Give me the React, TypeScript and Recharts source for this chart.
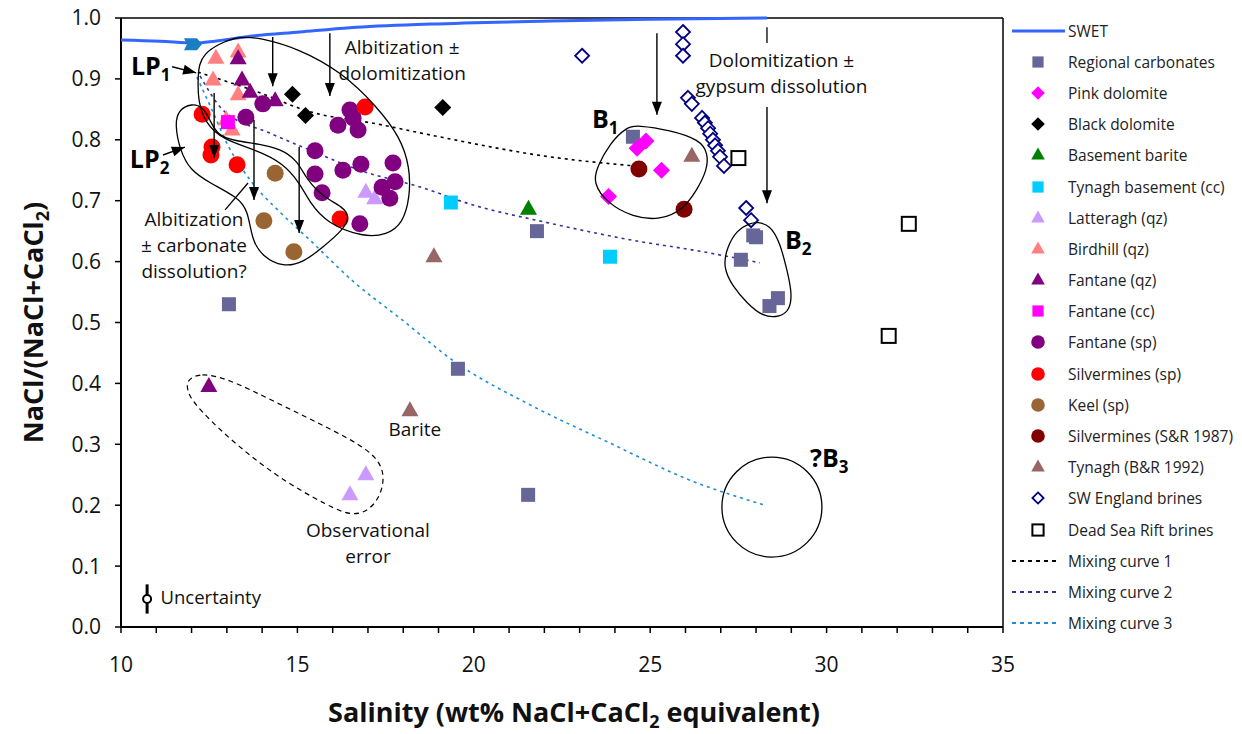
import React from "react";
import {
  ScatterChart,
  Scatter,
  XAxis,
  YAxis,
  ReferenceLine,
  ReferenceDot,
  ErrorBar,
} from "recharts";

const FONT = "'Open Sans', 'Noto Sans', sans-serif";

// salinity (wt%) vs NaCl/(NaCl+CaCl2)
const regionalCarbonates = [
  { x: 24.51, y: 0.805 }, { x: 21.79, y: 0.65 }, { x: 13.06, y: 0.53 },
  { x: 19.55, y: 0.424 }, { x: 21.54, y: 0.217 }, { x: 27.57, y: 0.603 },
  { x: 27.92, y: 0.643 }, { x: 28.0, y: 0.64 }, { x: 28.62, y: 0.54 },
  { x: 28.38, y: 0.527 },
];
const pinkDolomite = [
  { x: 23.82, y: 0.707 }, { x: 25.32, y: 0.75 }, { x: 24.63, y: 0.786 },
  { x: 24.88, y: 0.798 },
];
const blackDolomite = [
  { x: 14.86, y: 0.875 }, { x: 15.23, y: 0.84 }, { x: 19.12, y: 0.853 },
];
const basementBarite = [{ x: 21.55, y: 0.686 }];
const tynaghBasement = [{ x: 19.35, y: 0.697 }, { x: 23.86, y: 0.608 }];
const latteragh = [
  { x: 16.49, y: 0.217 }, { x: 16.94, y: 0.25 }, { x: 16.94, y: 0.714 },
  { x: 17.19, y: 0.703 },
];
const birdhill = [
  { x: 12.69, y: 0.934 }, { x: 13.32, y: 0.944 }, { x: 12.61, y: 0.898 },
  { x: 13.32, y: 0.874 }, { x: 13.15, y: 0.816 }, { x: 12.98, y: 0.833 },
];
const fantaneQz = [
  { x: 13.32, y: 0.933 }, { x: 13.43, y: 0.898 }, { x: 13.66, y: 0.878 },
  { x: 14.37, y: 0.864 }, { x: 12.49, y: 0.395 },
];
const fantaneCc = [{ x: 13.03, y: 0.829 }];
const fantaneSp = [
  { x: 14.02, y: 0.859 }, { x: 13.54, y: 0.837 }, { x: 16.49, y: 0.849 },
  { x: 16.15, y: 0.824 }, { x: 16.72, y: 0.816 }, { x: 16.58, y: 0.836 },
  { x: 15.5, y: 0.782 }, { x: 16.29, y: 0.75 }, { x: 16.8, y: 0.76 },
  { x: 17.71, y: 0.762 }, { x: 15.5, y: 0.744 }, { x: 17.77, y: 0.731 },
  { x: 17.4, y: 0.722 }, { x: 15.7, y: 0.713 }, { x: 17.62, y: 0.704 },
  { x: 16.77, y: 0.662 },
];
const silverminesSp = [
  { x: 12.3, y: 0.842 }, { x: 12.58, y: 0.788 }, { x: 12.55, y: 0.775 },
  { x: 13.29, y: 0.759 }, { x: 16.92, y: 0.854 }, { x: 16.21, y: 0.67 },
];
const keelSp = [{ x: 14.37, y: 0.745 }, { x: 14.05, y: 0.667 }, { x: 14.9, y: 0.616 }];
const silverminesSR = [{ x: 24.68, y: 0.752 }, { x: 25.96, y: 0.686 }];
const tynaghBR = [{ x: 26.18, y: 0.773 }, { x: 18.87, y: 0.608 }, { x: 18.19, y: 0.355 }];
const swEnglandBrines = [
  { x: 23.07, y: 0.938 }, { x: 25.93, y: 0.977 }, { x: 25.93, y: 0.957 },
  { x: 25.93, y: 0.938 }, { x: 26.07, y: 0.869 }, { x: 26.18, y: 0.859 },
  { x: 26.47, y: 0.836 }, { x: 26.55, y: 0.828 }, { x: 26.64, y: 0.819 },
  { x: 26.7, y: 0.81 }, { x: 26.78, y: 0.8 }, { x: 26.84, y: 0.791 },
  { x: 26.92, y: 0.782 }, { x: 26.98, y: 0.772 }, { x: 27.09, y: 0.757 },
  { x: 27.72, y: 0.688 }, { x: 27.86, y: 0.668 },
];
const deadSeaBrines = [{ x: 27.5, y: 0.77 }, { x: 32.33, y: 0.662 }, { x: 31.76, y: 0.478 }];

const swet = [
  { x: 10, y: 0.964 }, { x: 11.11, y: 0.962 }, { x: 12.1, y: 0.959 },
  { x: 12.66, y: 0.962 }, { x: 13.66, y: 0.97 }, { x: 15.07, y: 0.977 },
  { x: 16.49, y: 0.984 }, { x: 18.76, y: 0.99 }, { x: 22.16, y: 0.995 },
  { x: 24.99, y: 0.998 }, { x: 28.31, y: 1.0 },
];
const swetStart = [{ x: 12.04, y: 0.957 }];

const mixing1 = [
  { x: 12.18, y: 0.911 }, { x: 13.85, y: 0.879 }, { x: 15.36, y: 0.846 },
  { x: 17.26, y: 0.826 }, { x: 18.76, y: 0.808 }, { x: 22.16, y: 0.772 },
  { x: 24.57, y: 0.757 },
];
const mixing2 = [
  { x: 12.24, y: 0.905 }, { x: 12.89, y: 0.849 }, { x: 14.22, y: 0.811 },
  { x: 15.36, y: 0.783 }, { x: 16.77, y: 0.75 }, { x: 18.56, y: 0.721 },
  { x: 19.81, y: 0.696 }, { x: 22.16, y: 0.663 }, { x: 24.51, y: 0.635 },
  { x: 26.41, y: 0.617 }, { x: 28.11, y: 0.598 },
];
const mixing3 = [
  { x: 12.15, y: 0.903 }, { x: 12.58, y: 0.849 }, { x: 13.03, y: 0.791 },
  { x: 13.66, y: 0.734 }, { x: 14.51, y: 0.681 }, { x: 15.36, y: 0.635 },
  { x: 16.63, y: 0.565 }, { x: 17.91, y: 0.507 }, { x: 19.52, y: 0.433 },
  { x: 21.59, y: 0.365 }, { x: 23.86, y: 0.302 }, { x: 26.13, y: 0.241 },
  { x: 28.25, y: 0.2 },
];

// hand-drawn outlines, in data units
const envelopeLP1 = [
  { x: 12.24, y: 0.943 }, { x: 13.29, y: 0.972 }, { x: 13.94, y: 0.967 },
  { x: 14.99, y: 0.951 }, { x: 16.29, y: 0.91 }, { x: 17.26, y: 0.854 },
  { x: 17.91, y: 0.805 }, { x: 18.19, y: 0.755 }, { x: 18.19, y: 0.706 },
  { x: 17.99, y: 0.663 }, { x: 17.54, y: 0.644 }, { x: 16.86, y: 0.64 },
  { x: 15.84, y: 0.663 }, { x: 15.36, y: 0.696 }, { x: 15.07, y: 0.729 },
  { x: 14.59, y: 0.762 }, { x: 13.85, y: 0.783 }, { x: 12.89, y: 0.8 },
  { x: 12.38, y: 0.828 }, { x: 12.18, y: 0.865 }, { x: 12.18, y: 0.903 },
];
const envelopeLP2 = [
  { x: 11.62, y: 0.849 }, { x: 12.01, y: 0.86 }, { x: 12.32, y: 0.854 },
  { x: 12.52, y: 0.833 }, { x: 12.72, y: 0.808 }, { x: 13.23, y: 0.798 },
  { x: 13.94, y: 0.793 }, { x: 14.51, y: 0.785 }, { x: 14.99, y: 0.767 },
  { x: 15.27, y: 0.734 }, { x: 15.73, y: 0.706 }, { x: 16.29, y: 0.69 },
  { x: 16.49, y: 0.673 }, { x: 16.29, y: 0.652 }, { x: 15.73, y: 0.624 },
  { x: 15.16, y: 0.598 }, { x: 14.59, y: 0.591 }, { x: 14.02, y: 0.608 },
  { x: 13.71, y: 0.635 }, { x: 13.6, y: 0.685 }, { x: 13.29, y: 0.706 },
  { x: 12.52, y: 0.729 }, { x: 11.96, y: 0.75 }, { x: 11.67, y: 0.783 },
  { x: 11.53, y: 0.824 },
];
const envelopeB1 = [
  { x: 24.34, y: 0.821 }, { x: 24.63, y: 0.824 }, { x: 25.56, y: 0.816 },
  { x: 26.41, y: 0.8 }, { x: 26.64, y: 0.778 }, { x: 26.61, y: 0.75 },
  { x: 26.33, y: 0.718 }, { x: 25.93, y: 0.685 }, { x: 25.28, y: 0.668 },
  { x: 24.51, y: 0.673 }, { x: 23.78, y: 0.696 }, { x: 23.38, y: 0.729 },
  { x: 23.49, y: 0.755 }, { x: 23.86, y: 0.795 },
];
const envelopeB2 = [
  { x: 28.03, y: 0.665 }, { x: 28.4, y: 0.66 }, { x: 28.68, y: 0.631 },
  { x: 28.88, y: 0.586 }, { x: 29.02, y: 0.548 }, { x: 28.96, y: 0.521 },
  { x: 28.68, y: 0.509 }, { x: 28.2, y: 0.509 }, { x: 27.74, y: 0.532 },
  { x: 27.35, y: 0.558 }, { x: 27.06, y: 0.591 }, { x: 27.18, y: 0.624 },
  { x: 27.46, y: 0.652 }, { x: 27.83, y: 0.663 },
];
const envelopeObsError = [
  { x: 11.87, y: 0.406 }, { x: 12.24, y: 0.417 }, { x: 13.0, y: 0.409 },
  { x: 14.42, y: 0.368 }, { x: 15.84, y: 0.328 }, { x: 17.06, y: 0.291 },
  { x: 17.48, y: 0.258 }, { x: 17.4, y: 0.22 }, { x: 17.06, y: 0.192 },
  { x: 16.58, y: 0.182 }, { x: 15.92, y: 0.197 }, { x: 14.42, y: 0.246 },
  { x: 13.0, y: 0.312 }, { x: 12.04, y: 0.368 }, { x: 11.87, y: 0.389 },
];
const circleB3 = { x: 28.45, y: 0.197 };

// arrows: from -> to, head angle in degrees (0 = pointing right)
const arrows = [
  { from: [14.3, 0.969], to: [14.3, 0.888], dir: 90 },
  { from: [15.92, 0.975], to: [15.92, 0.872], dir: 90 },
  { from: [12.64, 0.877], to: [12.64, 0.77], dir: 90 },
  { from: [13.77, 0.833], to: [13.77, 0.701], dir: 90 },
  { from: [15.05, 0.788], to: [15.05, 0.647], dir: 90 },
  { from: [25.19, 0.975], to: [25.19, 0.841], dir: 90 },
  { from: [28.31, 0.854], to: [28.31, 0.696], dir: 90 },
  { from: [11.45, 0.92], to: [12.13, 0.91], dir: 14 },
  { from: [11.19, 0.775], to: [11.81, 0.788], dir: -20 },
];
const segments = [
  { from: [28.31, 0.985], to: [28.31, 0.959] },
  { from: [12.95, 0.685], to: [13.6, 0.729] },
];

const notes = [
  { x: 17.97, y: 0.941, lines: ["Albitization ±", "dolomitization"] },
  { x: 28.72, y: 0.92, lines: ["Dolomitization ±", "gypsum dissolution"] },
  { x: 12.07, y: 0.658, lines: ["Albitization", "± carbonate", "dissolution?"] },
  { x: 18.33, y: 0.313, lines: ["Barite"] },
  { x: 17.0, y: 0.147, lines: ["Observational", "error"] },
];
const fieldLabels = [
  { x: 10.28, y: 0.906, main: "LP", sub: "1" },
  { x: 10.25, y: 0.754, main: "LP", sub: "2" },
  { x: 23.35, y: 0.819, main: "B", sub: "1" },
  { x: 28.82, y: 0.621, main: "B", sub: "2" },
  { x: 29.53, y: 0.263, main: "?B", sub: "3" },
];
const uncertainty = [{ x: 10.74, y: 0.046, err: 0.024 }];
const uncertaintyNote = { x: 11.12, y: 0.037, text: "Uncertainty" };

const xTicks = [10, 11, 12, 13, 14, 15, 16, 17, 18, 19, 20, 21, 22, 23, 24, 25, 26, 27, 28, 29, 30, 31, 32, 33, 34, 35];
const yTicks = [0, 0.1, 0.2, 0.3, 0.4, 0.5, 0.6, 0.7, 0.8, 0.9, 1.0];

type Kind = "square" | "diamond" | "triangle" | "circle" | "openDiamond" | "openSquare";

const series: { name: string; data: { x: number; y: number }[]; kind: Kind; color: string }[] = [
  { name: "Regional carbonates", data: regionalCarbonates, kind: "square", color: "#666699" },
  { name: "Pink dolomite", data: pinkDolomite, kind: "diamond", color: "#ff00ff" },
  { name: "Black dolomite", data: blackDolomite, kind: "diamond", color: "#000000" },
  { name: "Basement barite", data: basementBarite, kind: "triangle", color: "#008000" },
  { name: "Tynagh basement (cc)", data: tynaghBasement, kind: "square", color: "#00ccff" },
  { name: "Latteragh (qz)", data: latteragh, kind: "triangle", color: "#cc99ff" },
  { name: "Birdhill (qz)", data: birdhill, kind: "triangle", color: "#ff8080" },
  { name: "Fantane (qz)", data: fantaneQz, kind: "triangle", color: "#800080" },
  { name: "Fantane (cc)", data: fantaneCc, kind: "square", color: "#ff00ff" },
  { name: "Fantane (sp)", data: fantaneSp, kind: "circle", color: "#800080" },
  { name: "Silvermines (sp)", data: silverminesSp, kind: "circle", color: "#ff0000" },
  { name: "Keel (sp)", data: keelSp, kind: "circle", color: "#996633" },
  { name: "Silvermines (S&R 1987)", data: silverminesSR, kind: "circle", color: "#800000" },
  { name: "Tynagh (B&R 1992)", data: tynaghBR, kind: "triangle", color: "#996666" },
  { name: "SW England brines", data: swEnglandBrines, kind: "openDiamond", color: "#000080" },
  { name: "Dead Sea Rift brines", data: deadSeaBrines, kind: "openSquare", color: "#000000" },
];

const curves = [
  { name: "Mixing curve 1", data: mixing1, color: "#000000" },
  { name: "Mixing curve 2", data: mixing2, color: "#333399" },
  { name: "Mixing curve 3", data: mixing3, color: "#1a8fd6" },
];

function Marker({ kind, color, cx, cy, k = 1 }: { kind: Kind; color: string; cx: number; cy: number; k?: number }) {
  if (kind === "square") {
    const s = 14 * k;
    return <rect x={cx - s / 2} y={cy - s / 2} width={s} height={s} fill={color} />;
  }
  if (kind === "circle") return <circle cx={cx} cy={cy} r={8.5 * k} fill={color} />;
  if (kind === "triangle") {
    const w = 8.5 * k;
    return (
      <polygon
        points={`${cx},${cy - 9.5 * k} ${cx + w},${cy + 5.5 * k} ${cx - w},${cy + 5.5 * k}`}
        fill={color}
      />
    );
  }
  if (kind === "diamond") {
    const d = 8.5 * k;
    return <polygon points={`${cx},${cy - d} ${cx + d},${cy} ${cx},${cy + d} ${cx - d},${cy}`} fill={color} />;
  }
  if (kind === "openDiamond") {
    const d = 7 * k;
    return (
      <polygon
        points={`${cx},${cy - d} ${cx + d},${cy} ${cx},${cy + d} ${cx - d},${cy}`}
        fill="#fff"
        stroke={color}
        strokeWidth={1.8}
      />
    );
  }
  const s = 14 * k;
  return <rect x={cx - s / 2} y={cy - s / 2} width={s} height={s} fill="#fff" stroke={color} strokeWidth={2} />;
}

const noDot = () => <g />;

const arrowHead = (p: any) =>
  p.payload && p.payload.dir != null ? (
    <polygon
      points="0,0 -13,-5 -13,5"
      fill="#000"
      transform={`translate(${p.cx},${p.cy}) rotate(${p.payload.dir})`}
    />
  ) : (
    <g />
  );

const swetChevron = (p: any) => (
  <polygon
    points={`${p.cx - 9},${p.cy - 6} ${p.cx + 4},${p.cy - 6} ${p.cx + 9},${p.cy} ${p.cx + 4},${p.cy + 6} ${p.cx - 9},${p.cy + 6} ${p.cx - 6},${p.cy}`}
    fill="#1b7ec2"
  />
);

const XTitle = (props: any) => {
  const vb = props.viewBox || { x: 121, y: 627, width: 882 };
  return (
    <text
      x={vb.x + vb.width / 2 + 12}
      y={vb.y + 95}
      textAnchor="middle"
      fontFamily={FONT}
      fontWeight="bold"
      fontSize={27}
      fill="#111"
    >
      Salinity (wt% NaCl+CaCl<tspan dy={6} fontSize={18}>2</tspan>
      <tspan dy={-6}> equivalent)</tspan>
    </text>
  );
};

const YTitle = (props: any) => {
  const vb = props.viewBox || { y: 18, height: 609 };
  const cy = vb.y + vb.height / 2;
  return (
    <text
      transform={`translate(43,${cy}) rotate(-90)`}
      textAnchor="middle"
      fontFamily={FONT}
      fontWeight="bold"
      fontSize={27}
      fill="#111"
    >
      NaCl/(NaCl+CaCl<tspan dy={6} fontSize={18}>2</tspan>
      <tspan dy={-6}>)</tspan>
    </text>
  );
};

function LegendIcon({ entry }: { entry: any }) {
  if (entry.kind === "line") return <line x1={4} x2={57} y1={10} y2={10} stroke={entry.color} strokeWidth={3} />;
  if (entry.kind === "dash")
    return <line x1={4} x2={52} y1={10} y2={10} stroke={entry.color} strokeWidth={2} strokeDasharray="4 4" />;
  return <Marker kind={entry.kind} color={entry.color} cx={30} cy={10} k={0.8} />;
}

export default function App() {
  const legendEntries = [
    { name: "SWET", kind: "line", color: "#3366ff" },
    ...series.map((s) => ({ name: s.name, kind: s.kind, color: s.color })),
    ...curves.map((c) => ({ name: c.name, kind: "dash", color: c.color })),
  ];

  return (
    <div style={{ position: "absolute", left: 0, top: 0, width: 1242, height: 734, background: "#fff", fontFamily: FONT }}>
      <ScatterChart width={1030} height={734} margin={{ top: 18, right: 27, bottom: 0, left: 0 }}>
        <XAxis
          type="number"
          dataKey="x"
          domain={[10, 35]}
          ticks={xTicks}
          interval={0}
          tickFormatter={(v: number) => (v % 5 === 0 ? String(v) : "")}
          height={107}
          axisLine={{ stroke: "#000", strokeWidth: 2 }}
          tickLine={{ stroke: "#000", strokeWidth: 1.5 }}
          tickSize={6}
          tickMargin={24}
          tick={{ fill: "#111", fontSize: 21, fontFamily: FONT }}
          label={<XTitle />}
        />
        <YAxis
          type="number"
          dataKey="y"
          domain={[0, 1]}
          ticks={yTicks}
          interval={0}
          tickFormatter={(v: number) => v.toFixed(1)}
          width={121}
          axisLine={{ stroke: "#000", strokeWidth: 2 }}
          tickLine={{ stroke: "#000", strokeWidth: 1.5 }}
          tickSize={6}
          tickMargin={14}
          tick={{ fill: "#111", fontSize: 21, fontFamily: FONT }}
          label={<YTitle />}
        />
        <ReferenceLine y={1} stroke="#000" strokeWidth={1.5} />
        <ReferenceLine x={35} stroke="#000" strokeWidth={1.5} />

        {curves.map((c) => (
          <Scatter
            key={c.name}
            name={c.name}
            data={c.data}
            line={{ stroke: c.color, strokeWidth: 1.6, strokeDasharray: "3 4" }}
            lineJointType="monotoneX"
            shape={noDot}
            isAnimationActive={false}
          />
        ))}
        <Scatter
          name="SWET"
          data={swet}
          line={{ stroke: "#3366ff", strokeWidth: 3 }}
          lineJointType="monotoneX"
          shape={noDot}
          isAnimationActive={false}
        />
        <Scatter name="SWET start" data={swetStart} shape={swetChevron} isAnimationActive={false} />

        {series.map((s) => (
          <Scatter
            key={s.name}
            name={s.name}
            data={s.data}
            shape={(p: any) => <Marker kind={s.kind} color={s.color} cx={p.cx} cy={p.cy} />}
            isAnimationActive={false}
          />
        ))}

        {[envelopeLP1, envelopeLP2, envelopeB1, envelopeB2].map((env, i) => (
          <Scatter
            key={"env" + i}
            data={env}
            line={{ stroke: "#000", strokeWidth: 1.3, fill: "none" }}
            lineJointType="basisClosed"
            shape={noDot}
            isAnimationActive={false}
          />
        ))}
        <Scatter
          data={envelopeObsError}
          line={{ stroke: "#000", strokeWidth: 1.2, strokeDasharray: "5 4", fill: "none" }}
          lineJointType="basisClosed"
          shape={noDot}
          isAnimationActive={false}
        />
        <ReferenceDot x={circleB3.x} y={circleB3.y} r={50} fill="none" stroke="#000" strokeWidth={1.3} />

        {arrows.map((a, i) => (
          <Scatter
            key={"arrow" + i}
            data={[
              { x: a.from[0], y: a.from[1] },
              { x: a.to[0], y: a.to[1], dir: a.dir },
            ]}
            line={{ stroke: "#000", strokeWidth: 1.4 }}
            shape={arrowHead}
            isAnimationActive={false}
          />
        ))}
        {segments.map((sg, i) => (
          <Scatter
            key={"seg" + i}
            data={[
              { x: sg.from[0], y: sg.from[1] },
              { x: sg.to[0], y: sg.to[1] },
            ]}
            line={{ stroke: "#000", strokeWidth: 1.3 }}
            shape={noDot}
            isAnimationActive={false}
          />
        ))}

        <Scatter
          data={uncertainty}
          shape={(p: any) => <circle cx={p.cx} cy={p.cy} r={4} fill="#fff" stroke="#000" strokeWidth={2} />}
          isAnimationActive={false}
        >
          <ErrorBar dataKey="err" direction="y" width={0} stroke="#000" strokeWidth={3} />
        </Scatter>

        {notes.map((n, i) => (
          <ReferenceDot
            key={"note" + i}
            x={n.x}
            y={n.y}
            r={1}
            shape={(p: any) => (
              <text x={p.cx} y={p.cy} textAnchor="middle" fontFamily={FONT} fontSize={19} fill="#111">
                {n.lines.map((l, j) => (
                  <tspan key={j} x={p.cx} dy={j === 0 ? 0 : 26}>
                    {l}
                  </tspan>
                ))}
              </text>
            )}
          />
        ))}
        {fieldLabels.map((f, i) => (
          <ReferenceDot
            key={"field" + i}
            x={f.x}
            y={f.y}
            r={1}
            shape={(p: any) => (
              <text x={p.cx} y={p.cy} fontFamily={FONT} fontWeight="bold" fontSize={25} fill="#000">
                {f.main}
                <tspan dy={6} fontSize={17}>
                  {f.sub}
                </tspan>
              </text>
            )}
          />
        ))}
        <ReferenceDot
          x={uncertaintyNote.x}
          y={uncertaintyNote.y}
          r={1}
          shape={(p: any) => (
            <text x={p.cx} y={p.cy} fontFamily={FONT} fontSize={18.5} fill="#111">
              {uncertaintyNote.text}
            </text>
          )}
        />
      </ScatterChart>

      <div style={{ position: "absolute", left: 1008, top: 15, width: 234 }}>
        {legendEntries.map((e) => (
          <div key={e.name} style={{ height: 31.2, display: "flex", alignItems: "center" }}>
            <svg width={60} height={20} style={{ flex: "none" }}>
              <LegendIcon entry={e} />
            </svg>
            <span style={{ fontSize: 15.5, color: "#222", whiteSpace: "nowrap" }}>{e.name}</span>
          </div>
        ))}
      </div>
    </div>
  );
}
